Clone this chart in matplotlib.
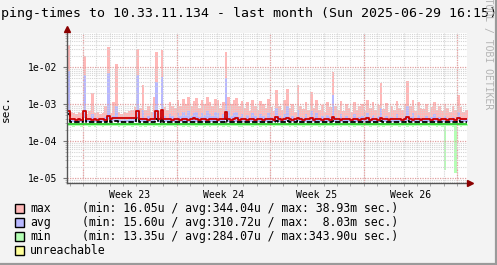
import numpy as np
import matplotlib
matplotlib.use("Agg")
import matplotlib.pyplot as plt
from matplotlib.ticker import LogLocator, NullFormatter, FixedLocator
from matplotlib.patches import Rectangle
from matplotlib.lines import Line2D

# ---------------- data (microseconds, one sample per 4.8 h) ----------------
sample_days = 0.2
max_us = [
    38930, 620, 580, 540, 600, 560, 20000, 520, 640, 2000,
    560, 600, 520, 580, 900, 34000, 560, 1100, 12000, 600,
    540, 620, 580, 650, 700, 820, 30000, 760, 3300, 680,
    900, 620, 1500, 25000, 640, 28000, 820, 700, 1100, 900,
    760, 1300, 880, 1400, 1000, 1500, 900, 1200, 1450, 800,
    1300, 1000, 1500, 1150, 900, 1400, 1250, 800, 1100, 26000,
    1500, 1000, 1300, 1450, 900, 1200, 800, 1100, 650, 1300,
    900, 700, 1200, 1000, 760, 1350, 850, 650, 2400, 900,
    700, 1250, 2600, 800, 1000, 620, 3300, 900, 750, 1150,
    680, 2100, 800, 1300, 700, 950, 600, 1100, 850, 7400,
    900, 700, 1200, 650, 1000, 800, 620, 1150, 700, 900,
    1000, 650, 1300, 800, 1100, 700, 950, 3700, 750, 1050,
    600, 900, 680, 1200, 800, 700, 1000, 4200, 900, 1300,
    650, 1100, 800, 720, 1000, 600, 850, 1150, 700, 900,
    650, 1000, 780, 600, 900, 700, 1750, 820, 620, 700,
]
avg_us = [
    8030, 400, 380, 390, 420, 380, 6000, 370, 400, 520,
    380, 410, 370, 390, 450, 7000, 380, 480, 900, 400,
    370, 390, 380, 410, 420, 450, 6000, 430, 700, 420,
    480, 400, 600, 4000, 410, 5500, 460, 420, 520, 480,
    430, 560, 470, 600, 500, 650, 480, 560, 620, 440,
    580, 500, 640, 520, 470, 600, 560, 430, 520, 5000,
    650, 480, 560, 600, 450, 540, 430, 500, 400, 560,
    460, 400, 520, 480, 420, 580, 450, 390, 800, 460,
    400, 540, 900, 430, 480, 380, 700, 450, 410, 520,
    390, 650, 430, 560, 400, 470, 380, 500, 440, 1700,
    450, 400, 520, 380, 480, 420, 380, 520, 400, 450,
    480, 380, 560, 420, 500, 400, 460, 800, 410, 480,
    380, 450, 390, 540, 420, 400, 480, 900, 450, 560,
    380, 500, 420, 400, 470, 380, 440, 520, 400, 450,
    380, 470, 420, 380, 450, 400, 600, 430, 380, 400,
]
min_us = [
    250, 248, 246, 250, 248, 245, 250, 247, 245, 248,
    246, 250, 248, 245, 247, 250, 246, 248, 250, 245,
    248, 246, 250, 247, 245, 248, 250, 246, 248, 245,
    247, 250, 240, 248, 246, 250, 245, 248, 247, 250,
    245, 248, 250, 246, 247, 235, 248, 250, 245, 247,
    250, 246, 248, 245, 250, 247, 238, 248, 246, 250,
    245, 248, 247, 250, 246, 245, 248, 250, 247, 245,
    248, 250, 246, 247, 245, 250, 248, 246, 250, 247,
    245, 248, 250, 246, 247, 245, 250, 248, 246, 250,
    247, 245, 248, 250, 246, 247, 245, 250, 248, 246,
    250, 247, 245, 248, 250, 246, 247, 245, 250, 248,
    246, 250, 247, 245, 248, 250, 246, 247, 245, 250,
    248, 246, 250, 247, 245, 248, 250, 246, 247, 245,
    250, 248, 246, 250, 247, 245, 248, 250, 246, 247,
    245, 16, 248, 250, 246, 13.35, 247, 245, 250, 248,
]
green_line_us = [
    290, 290, 288, 290, 292, 290, 290, 288, 290, 290,
    292, 290, 290, 288, 290, 290, 292, 290, 290, 288,
    290, 290, 292, 290, 290, 288, 290, 290, 292, 290,
    290, 288, 285, 290, 292, 290, 290, 288, 290, 290,
    292, 290, 290, 288, 290, 282, 292, 290, 290, 288,
    290, 290, 292, 290, 290, 288, 284, 290, 292, 290,
    290, 288, 290, 290, 292, 290, 290, 288, 290, 290,
    292, 290, 290, 288, 290, 290, 292, 290, 290, 288,
    290, 290, 292, 290, 290, 288, 290, 290, 292, 290,
    290, 288, 290, 290, 292, 290, 290, 288, 290, 290,
    292, 290, 290, 288, 290, 290, 292, 290, 290, 288,
    290, 290, 292, 290, 290, 288, 290, 290, 292, 290,
    290, 288, 290, 290, 292, 290, 290, 288, 290, 290,
    292, 290, 290, 288, 290, 290, 292, 290, 290, 288,
    290, 290, 292, 290, 290, 288, 290, 290, 292, 290,
]
red_line_us = [
    650, 390, 385, 380, 385, 380, 650, 390, 385, 380,
    385, 380, 390, 385, 380, 480, 390, 410, 420, 410,
    415, 410, 420, 410, 415, 410, 650, 390, 400, 385,
    380, 385, 390, 640, 390, 700, 400, 385, 390, 380,
    385, 390, 380, 400, 385, 380, 390, 420, 385, 380,
    390, 385, 380, 400, 385, 390, 380, 385, 400, 620,
    390, 380, 385, 420, 380, 390, 385, 380, 400, 385,
    380, 390, 385, 380, 400, 385, 390, 380, 440, 385,
    380, 390, 420, 385, 380, 390, 430, 385, 380, 390,
    385, 410, 380, 390, 385, 380, 390, 385, 380, 450,
    390, 385, 380, 400, 385, 390, 380, 385, 390, 380,
    385, 390, 420, 380, 385, 390, 380, 430, 385, 390,
    380, 385, 390, 400, 385, 380, 390, 440, 385, 380,
    390, 385, 380, 390, 400, 385, 380, 390, 385, 380,
    385, 390, 380, 385, 390, 380, 420, 385, 390, 385,
]
black_line_us = [
    550, 335, 330, 335, 330, 335, 420, 330, 335, 330,
    335, 330, 335, 330, 335, 380, 330, 340, 350, 335,
    330, 335, 330, 335, 330, 335, 420, 330, 335, 330,
    335, 330, 335, 400, 330, 420, 335, 330, 335, 330,
    335, 330, 335, 330, 335, 330, 335, 330, 335, 330,
    335, 330, 335, 330, 335, 330, 335, 330, 335, 400,
    335, 330, 335, 330, 335, 330, 335, 330, 335, 330,
    335, 330, 335, 330, 335, 330, 335, 330, 345, 330,
    335, 330, 340, 330, 335, 330, 345, 330, 335, 330,
    335, 330, 335, 330, 335, 330, 335, 330, 335, 350,
    335, 330, 335, 330, 335, 330, 335, 330, 335, 330,
    335, 330, 335, 330, 335, 330, 335, 340, 335, 330,
    335, 330, 335, 330, 335, 330, 335, 345, 335, 330,
    335, 330, 335, 330, 335, 330, 335, 330, 335, 330,
    335, 330, 335, 330, 335, 330, 340, 330, 335, 330,
]
week_bounds = [1.2, 8.2, 15.2, 22.2, 29.2]
week_labels = ["Week 23", "Week 24", "Week 25", "Week 26"]
y_ticks = [1e-5, 1e-4, 1e-3, 1e-2]
y_tick_labels = ["1e-05", "1e-04", "1e-03", "1e-02"]
legend_names = ["max", "avg", "min", "unreachable"]
legend_stats = [
    "(min: 16.05u / avg:344.04u / max: 38.93m sec.)",
    "(min: 15.60u / avg:310.72u / max:  8.03m sec.)",
    "(min: 13.35u / avg:284.07u / max:343.90u sec.)",
    "",
]
title = "ping-times to 10.33.11.134 - last month (Sun 2025-06-29 16:15)"

# ---------------- style ----------------
MONO = "DejaVu Sans Mono"
plt.rcParams["font.family"] = MONO
C_MAX = "#ffb8b8"
C_AVG = "#b8b8ff"
C_MIN = "#b4ffb4"
C_UNR = "#ffff99"
BG = "#f3f3f3"

W, H = 497, 265
fig = plt.figure(figsize=(W / 100, H / 100), dpi=100, facecolor=BG)
ax = fig.add_axes([67 / W, 1 - 183 / H, 400 / W, 150 / H])
ax.set_facecolor("white")

def s(arr):
    a = np.asarray(arr, dtype=float) * 1e-6
    return np.append(a, a[-1])

n = len(max_us)
t = np.arange(n + 1) * sample_days
mx, av, mn = s(max_us), s(avg_us), s(min_us)
gl, rl, bl = s(green_line_us), s(red_line_us), s(black_line_us)

ax.fill_between(t, bl, mx, step="post", color=C_MAX, lw=0, zorder=1)
ax.fill_between(t, bl, av, step="post", color=C_AVG, lw=0, zorder=1.1)
ax.fill_between(t, mn, gl, step="post", color=C_MIN, lw=0, zorder=1.2)
ax.step(t, gl, where="post", color="#22cc22", lw=1.2, zorder=3)
ax.step(t, bl, where="post", color="black", lw=1.3, zorder=3.2,
        dashes=(3, 1.2))
ax.step(t, rl, where="post", color="#cc0000", lw=1.3, zorder=3.4)

ax.set_yscale("log")
ax.set_ylim(7.3e-6, 0.083)
ax.set_xlim(0, 29.94)

# grid
for d in np.arange(0.2, 30, 1.0):
    ax.axvline(d, color="#d4d4d4", lw=0.8, ls=(0, (1, 1)), zorder=2)
for d in week_bounds:
    ax.axvline(d, color="#eaa0a0", lw=0.9, ls=(0, (1, 1)), zorder=2.1)
ax.yaxis.set_major_locator(FixedLocator(y_ticks))
ax.set_yticklabels(y_tick_labels)
ax.yaxis.set_minor_locator(LogLocator(base=10, subs=np.arange(2, 10)))
ax.yaxis.set_minor_formatter(NullFormatter())
ax.yaxis.grid(True, which="minor", color="#d4d4d4", lw=0.8, ls=(0, (1, 1)), zorder=2)
ax.yaxis.grid(True, which="major", color="#e0a0a0", lw=0.9, ls=(0, (1, 1)), zorder=2.1)
ax.set_axisbelow(False)

mids = [(week_bounds[i] + week_bounds[i + 1]) / 2 for i in range(4)]
ax.set_xticks(mids)
ax.set_xticklabels(week_labels)
ax.set_xticks(np.arange(0.2, 30, 1.0), minor=True)
ax.tick_params(axis="x", which="major", length=0, pad=5, labelsize=7)
ax.tick_params(axis="x", which="minor", length=2, color="#999999")
ax.tick_params(axis="y", which="major", length=3, pad=4, labelsize=7, color="#777777")
ax.tick_params(axis="y", which="minor", length=1.5, color="#aaaaaa")

for sp in ["top", "right"]:
    ax.spines[sp].set_visible(False)
for sp in ["left", "bottom"]:
    ax.spines[sp].set_color("#555555")
    ax.spines[sp].set_linewidth(1.0)
    ax.spines[sp].set_zorder(5)

ax.plot([0], [1.027], marker="^", color="#8b0000", markersize=5,
        transform=ax.transAxes, clip_on=False, zorder=6)
ax.plot([1.0075], [0], marker=">", color="#8b0000", markersize=5,
        transform=ax.transAxes, clip_on=False, zorder=6)

ax.set_ylabel("sec.", fontsize=8, labelpad=10)
ax.yaxis.set_label_coords(-(67 - 11) / 400, 0.5)

# title and watermark
fig.text(1 / W, 1 - 13 / H, title, fontsize=9.5, ha="left", va="center")
fig.text(487.5 / W, 1 - 44.5 / H, "RRDTOOL / TOBI OETIKER", rotation=270,
         ha="center", va="center", fontsize=7, color="#b4b4b4")

# legend
colors = [C_MAX, C_AVG, C_MIN, C_UNR]
for i, (name, stat, c) in enumerate(zip(legend_names, legend_stats, colors)):
    yc = 208.7 + 14 * i
    fig.add_artist(Rectangle((15 / W, 1 - (yc + 4.5) / H), 9 / W, 9 / H,
                             transform=fig.transFigure, facecolor=c,
                             edgecolor="black", lw=1))
    fig.text(30 / W, 1 - yc / H, name, fontsize=8.3, va="center", ha="left")
    if stat:
        fig.text(82 / W, 1 - yc / H, stat, fontsize=8.3, va="center", ha="left")

# frame
fig.add_artist(Line2D([0, 1], [0.8 / H, 0.8 / H], transform=fig.transFigure,
                      color="#9a9a9a", lw=1.6))
fig.add_artist(Line2D([1 - 0.8 / W, 1 - 0.8 / W], [0, 1], transform=fig.transFigure,
                      color="#9a9a9a", lw=1.6))

fig.savefig("out.png", dpi=100, facecolor=BG)
